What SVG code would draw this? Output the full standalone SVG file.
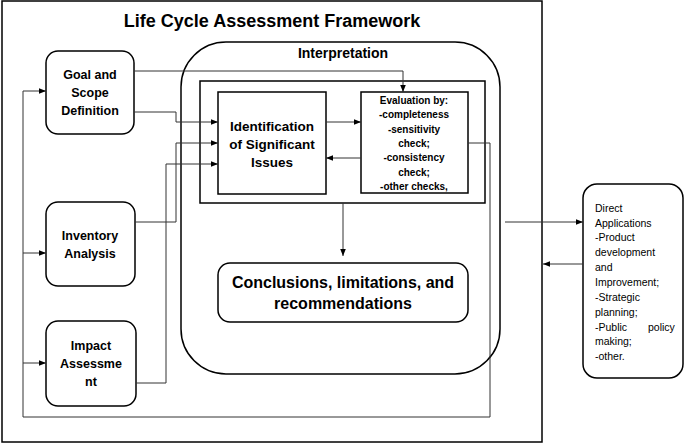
<svg xmlns="http://www.w3.org/2000/svg" width="685" height="443" viewBox="0 0 685 443">
<defs>
<marker id="a" viewBox="0 0 10 10" refX="10" refY="5" markerWidth="7" markerHeight="7" orient="auto"><path d="M0,1 L10,5 L0,9 z" fill="#000"/></marker>
<style>
.b{fill:#fff;stroke:#000;stroke-width:1.5}
.c{fill:none;stroke:#333;stroke-width:1}
text{font-family:"Liberation Sans",Arial,sans-serif;font-weight:bold;text-anchor:middle;fill:#000}
.n{font-size:12.5px}
.e{font-size:10px}
.d{font-size:10.5px;text-anchor:start;font-weight:normal}
</style>
</defs>
<rect x="2" y="1" width="540" height="441" fill="#fff" stroke="#000" stroke-width="1.5"/>
<text x="272" y="27" font-size="18">Life Cycle Assessment Framework</text>
<g id="interpretation"><rect class="b" x="181" y="42" width="319" height="332" rx="45"/><text x="343" y="58" font-size="14">Interpretation</text>
<rect class="b" x="200" y="81" width="285" height="122" rx="0"/></g>
<g id="goal"><rect class="b" x="46" y="51" width="88" height="83" rx="12"/><text class="n" x="90" y="79">Goal and</text><text class="n" x="90" y="97">Scope</text><text class="n" x="90" y="115">Definition</text></g>
<g id="inventory"><rect class="b" x="46" y="202" width="89" height="84" rx="12"/><text class="n" x="90" y="240">Inventory</text><text class="n" x="90" y="258">Analysis</text></g>
<g id="impact"><rect class="b" x="46" y="321" width="90" height="85" rx="12"/><text class="n" x="91" y="350">Impact</text><text class="n" x="91" y="368">Assessme</text><text class="n" x="91" y="386">nt</text></g>
<g id="identification"><rect class="b" x="218" y="92" width="108" height="102"/><text font-size="13.5" x="272" y="131">Identification</text><text font-size="13.5" x="272" y="149">of Significant</text><text font-size="13.5" x="272" y="167">Issues</text></g>
<g id="evaluation"><rect class="b" x="361" y="92" width="107" height="101"/>
<text class="e" x="414" y="104">Evaluation by:</text><text class="e" x="414" y="118">-completeness</text><text class="e" x="414" y="133">-sensitivity</text><text class="e" x="414" y="147">check;</text><text class="e" x="414" y="161">-consistency</text><text class="e" x="414" y="176">check;</text><text class="e" x="414" y="190">-other checks,</text></g>
<g id="conclusions"><rect class="b" x="218" y="263" width="250" height="59" rx="12"/><text font-size="16" x="343" y="288">Conclusions, limitations, and</text><text font-size="16" x="343" y="309">recommendations</text></g>
<g id="direct"><rect class="b" x="583" y="184" width="100" height="194" rx="14"/>
<text class="d" x="595" y="212" font-weight="bold">Direct</text><text class="d" x="595" y="227" font-weight="bold">Applications</text>
<text class="d" x="595" y="241">-Product</text><text class="d" x="595" y="256">development</text><text class="d" x="595" y="271">and</text><text class="d" x="595" y="286">Improvement;</text><text class="d" x="595" y="301">-Strategic</text><text class="d" x="595" y="316">planning;</text><text class="d" x="595" y="331">-Public<tspan x="648">policy</tspan></text><text class="d" x="595" y="345">making;</text><text class="d" x="595" y="360">-other.</text></g>
<g id="connectors">
<path class="c" d="M134,71 H403 V92" marker-end="url(#a)"/>
<path class="c" d="M134,112 H176 V122 H218" marker-end="url(#a)"/>
<path class="c" d="M135,222 H176 V143 H218" marker-end="url(#a)"/>
<path class="c" d="M136,383 H166 V164 H218" marker-end="url(#a)"/>
<path class="c" d="M326,122 H361" marker-end="url(#a)"/>
<path class="c" d="M361,158 H326" marker-end="url(#a)"/>
<path class="c" d="M468,143 H490 V417 H23 V91 H46" marker-end="url(#a)"/>
<path class="c" d="M23,253 H46" marker-end="url(#a)"/>
<path class="c" d="M23,363 H46" marker-end="url(#a)"/>
<path class="c" d="M343,203 V256" marker-end="url(#a)"/>
<path class="c" d="M505,222 H583" marker-end="url(#a)"/>
<path class="c" d="M583,264 H543" marker-end="url(#a)"/>
</g>
</svg>
